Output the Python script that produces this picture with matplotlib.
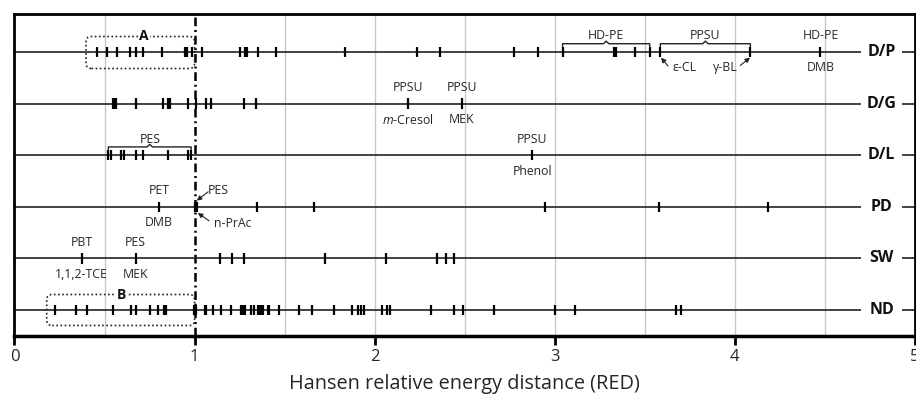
import numpy as np
import matplotlib.pyplot as plt
from matplotlib.patches import FancyBboxPatch

plt.rcParams['font.family'] = ['Open Sans', 'DejaVu Sans']
plt.rcParams['mathtext.fontset'] = 'custom'
plt.rcParams['mathtext.it'] = 'Open Sans:italic'
plt.rcParams['mathtext.rm'] = 'Open Sans'

# RED values per test group
rows = ['D/P', 'D/G', 'D/L', 'PD', 'SW', 'ND']

dp = [0.457, 0.516, 0.571, 0.642, 0.673, 0.712, 0.821, 0.945, 0.957, 0.984,
      1.043, 1.253, 1.280, 1.292, 1.354, 1.453, 1.836, 2.234, 2.364, 2.773,
      2.904, 3.043, 3.330, 3.342, 3.443, 3.527, 3.586, 4.086, 4.475]
dg = [0.548, 0.556, 0.564, 0.673, 0.823, 0.852, 0.864, 0.962, 1.008, 1.064,
      1.092, 1.275, 1.342, 2.184, 2.484]
dl = [0.521, 0.536, 0.590, 0.608, 0.673, 0.712, 0.851, 0.962, 0.981, 2.875]
pd_red = [0.803, 1.000, 1.012, 1.345, 1.664, 2.943, 3.577, 4.184]
sw = [0.373, 0.673, 1.142, 1.210, 1.275, 1.725, 2.064, 2.345, 2.395, 2.443]
nd = [0.225, 0.342, 0.401, 0.545, 0.645, 0.673, 0.753, 0.799, 0.830, 0.842,
      0.995, 1.005, 1.055, 1.066, 1.101, 1.146, 1.203, 1.257, 1.270, 1.280,
      1.312, 1.332, 1.352, 1.362, 1.372, 1.382, 1.405, 1.412, 1.471, 1.582,
      1.651, 1.773, 1.873, 1.905, 1.923, 1.942, 2.040, 2.070, 2.084, 2.314,
      2.443, 2.493, 2.664, 3.003, 3.114, 3.675, 3.703]
red_values = [dp, dg, dl, pd_red, sw, nd]

# simple labels: (row, RED, text above, text below)
point_labels = [
    ('D/P', 4.475, 'HD-PE', 'DMB'),
    ('D/G', 2.184, 'PPSU', r'$\mathit{m}$-Cresol'),
    ('D/G', 2.484, 'PPSU', 'MEK'),
    ('D/L', 2.875, 'PPSU', 'Phenol'),
    ('PD', 0.803, 'PET', 'DMB'),
    ('SW', 0.373, 'PBT', '1,1,2-TCE'),
    ('SW', 0.673, 'PES', 'MEK'),
]
# braces: (row, start, end, label)
braces = [
    ('D/P', 3.043, 3.527, 'HD-PE'),
    ('D/P', 3.586, 4.086, 'PPSU'),
    ('D/L', 0.521, 0.981, 'PES'),
]

txt_col = '#262626'
fs = 8.8

fig = plt.figure(figsize=(9.16, 3.94), dpi=100)
ax = fig.add_axes([14.5 / 916, 58 / 394, 900.5 / 916, 322 / 394])

ypos = {name: 6 - i for i, name in enumerate(rows)}

# grid
for gx in [0.5, 1.5, 2, 2.5, 3, 3.5, 4, 4.5]:
    ax.axvline(gx, color='#c8c8c8', lw=1, zorder=0)
ax.axvline(1, color='k', lw=1.8, dashes=(3.5, 1.5, 0.8, 1.5), zorder=1)

for name, vals in zip(rows, red_values):
    y = ypos[name]
    ax.hlines(y, 0, 4.70, color='#222222', lw=1.2, zorder=2)
    ax.hlines(y, 4.93, 5, color='#222222', lw=1.2, zorder=2)
    ax.vlines(vals, y - 0.1, y + 0.1, color='k', lw=1.6, zorder=3)
    ax.text(4.815, y, name, ha='center', va='center', fontsize=11.5,
            fontweight='bold', color='#111111')

for name, xv, above, below in point_labels:
    y = ypos[name]
    ax.text(xv, y + 0.31, above, ha='center', va='center', fontsize=fs, color=txt_col)
    ax.text(xv, y - 0.31, below, ha='center', va='center', fontsize=fs, color=txt_col)

for name, x0, x1, lab in braces:
    y = ypos[name]
    yb = y + 0.16
    xm = (x0 + x1) / 2
    bx = [x0, x0, xm - 0.015, xm, xm + 0.015, x1, x1]
    by = [y + 0.1, yb, yb, yb + 0.05, yb, yb, y + 0.1]
    ax.plot(bx, by, color='#222222', lw=1, zorder=3)
    ax.text(xm, y + 0.31, lab, ha='center', va='center', fontsize=fs, color=txt_col)

# arrows
arr = dict(arrowstyle='-|>', color='#222222', lw=0.8, mutation_scale=7,
           shrinkA=0, shrinkB=0)
yp = ypos['D/P']
ax.text(3.72, yp - 0.31, 'ε-CL', ha='center', va='center', fontsize=fs, color=txt_col)
ax.annotate('', xy=(3.590, yp - 0.11), xytext=(3.628, yp - 0.27), arrowprops=arr)
ax.text(3.947, yp - 0.31, 'γ-BL', ha='center', va='center', fontsize=fs, color=txt_col)
ax.annotate('', xy=(4.084, yp - 0.11), xytext=(4.030, yp - 0.26), arrowprops=arr)

ypd = ypos['PD']
ax.text(1.13, ypd + 0.31, 'PES', ha='center', va='center', fontsize=fs, color=txt_col)
ax.annotate('', xy=(1.012, ypd + 0.12), xytext=(1.075, ypd + 0.29), arrowprops=arr)
ax.text(1.21, ypd - 0.33, 'n-PrAc', ha='center', va='center', fontsize=fs, color=txt_col)
ax.annotate('', xy=(1.018, ypd - 0.12), xytext=(1.08, ypd - 0.27), arrowprops=arr)

# dotted boxes A and B
ma = 180 / 51.6
for (x0, x1, y0, y1, lab, lx) in [(0.397, 1.0, 5.68, 6.30, 'A', 0.72),
                                  (0.179, 1.0, 0.70, 1.30, 'B', 0.596)]:
    box = FancyBboxPatch((x0, y0), x1 - x0, y1 - y0,
                         boxstyle='round,pad=0,rounding_size=0.03',
                         mutation_aspect=ma, fill=False, ls=(0, (1, 1.5)),
                         lw=1.2, ec='#222222', zorder=2)
    ax.add_patch(box)
    ax.text(lx, y1, lab, ha='center', va='center', fontsize=10, fontweight='bold',
            color='#111111', bbox=dict(fc='white', ec='none', pad=1), zorder=4)

ax.set_xlim(0, 5)
ax.set_ylim(0.496, 6.736)
ax.set_yticks([])
ax.set_xticks([0, 1, 2, 3, 4, 5])
ax.tick_params(axis='x', direction='out', length=6.5, width=2, labelsize=12,
               pad=3, labelcolor=txt_col)
for s in ax.spines.values():
    s.set_linewidth(2)
ax.spines['bottom'].set_linewidth(2.5)
ax.set_xlabel('Hansen relative energy distance (RED)', fontsize=14.3,
              labelpad=6, color=txt_col)

fig.savefig('out.png', dpi=100)
